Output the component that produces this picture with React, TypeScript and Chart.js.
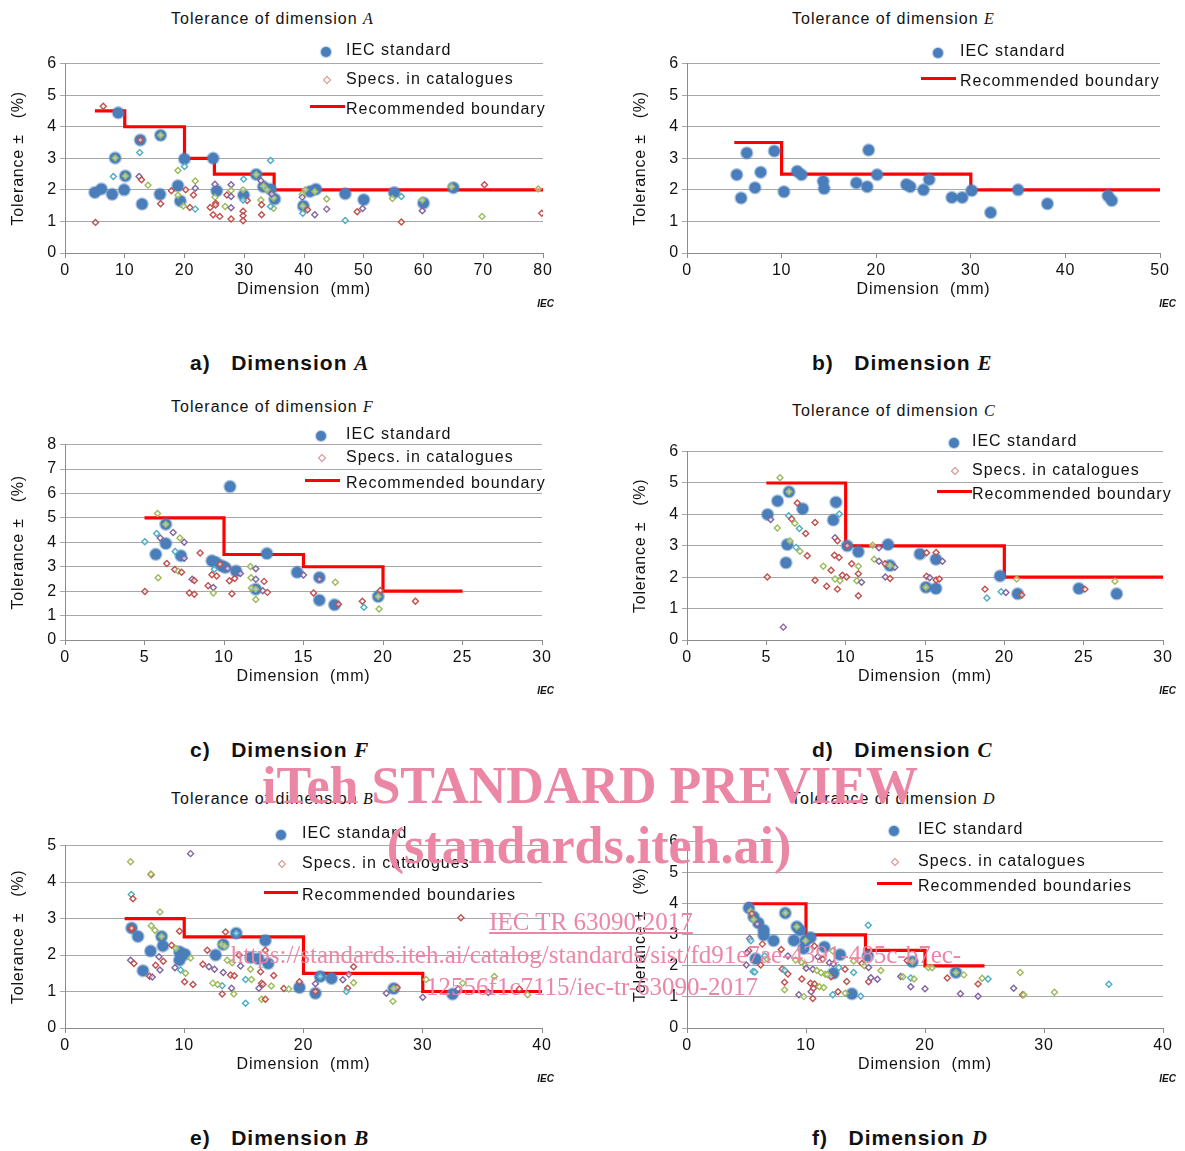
import React, { useEffect, useRef } from "react";
import { Chart, registerables } from "chart.js";
Chart.register(...registerables);

type P = [number, number];
type S = [number, number, number]; // x, y, catalogue source

// catalogue sources: 0 red, 1 green, 2 purple, 3 teal
const SOURCE_COLORS = ["#C0504D", "#9BBB59", "#8064A2", "#4BACC6"];

// ---------- Dimension A ----------
const iecA: P[] = [[5.0,1.92],[6.1,2.03],[7.9,1.86],[8.9,4.44],[8.4,3.01],[10.1,2.44],[9.9,2.0],[12.6,3.58],[12.9,1.55],[16.0,3.73],[15.9,1.86],[18.9,2.13],[19.3,1.65],[20.0,2.98],[24.8,3.0],[25.4,1.97],[29.9,1.83],[32.0,2.49],[33.2,2.1],[34.4,2.02],[35.1,1.71],[39.9,1.49],[41.0,1.95],[42.0,2.02],[46.9,1.88],[50.0,1.69],[55.1,1.92],[60.0,1.58],[65.0,2.07]];
const specsA: S[] = [[5.1,0.97,0],[6.4,4.65,0],[8.1,2.42,3],[8.4,3.01,1],[12.5,3.18,3],[12.6,3.58,0],[12.4,2.42,2],[12.8,2.32,0],[13.9,2.15,1],[10.1,2.44,1],[16.0,1.56,0],[16.0,3.73,1],[17.8,1.97,0],[18.9,2.61,1],[20.0,2.74,3],[20.2,2.0,0],[18.9,1.83,1],[19.8,1.49,1],[20.9,1.44,0],[21.8,1.39,3],[21.8,2.28,1],[21.8,2.05,2],[21.5,1.84,0],[25.1,2.18,2],[25.1,1.77,1],[25.2,1.58,0],[25.2,1.52,0],[24.3,1.44,0],[24.8,1.21,0],[25.9,1.16,0],[26.8,1.47,1],[27.1,1.84,0],[27.8,2.16,2],[27.8,1.98,1],[27.8,1.79,2],[27.8,1.43,2],[27.8,1.08,0],[29.9,2.34,3],[29.8,2.0,1],[29.8,1.32,0],[29.8,1.18,0],[29.8,1.02,0],[30.5,1.66,0],[29.8,1.68,3],[32.0,2.49,1],[33.2,2.12,1],[32.8,2.29,2],[32.8,1.68,1],[32.9,1.53,0],[32.9,1.21,0],[34.4,2.93,3],[33.8,2.0,1],[34.9,1.42,1],[34.4,1.47,3],[34.9,1.74,1],[34.6,1.87,2],[39.7,1.86,1],[39.7,1.77,2],[39.8,1.26,3],[39.8,1.49,1],[40.6,1.37,0],[41.8,1.21,2],[40.2,2.0,1],[41.8,1.95,1],[43.8,1.71,1],[43.8,1.39,2],[46.9,1.03,3],[48.9,1.31,0],[49.8,1.41,2],[54.8,1.73,1],[56.3,1.79,3],[56.3,0.98,0],[59.8,1.34,2],[59.8,1.68,1],[64.7,2.1,1],[70.2,2.16,0],[69.8,1.16,1],[79.2,2.03,1],[79.8,1.26,0]];
const boundAx = [5, 10, 20, 25, 35, 80];
const boundAy = [4.5, 4, 3, 2.5, 2, 2];

// ---------- Dimension E ----------
const iecE: P[] = [[5.26,2.48],[5.72,1.74],[6.32,3.17],[7.19,2.07],[7.79,2.56],[9.23,3.23],[10.25,1.94],[11.65,2.59],[12.1,2.48],[14.4,2.27],[14.5,2.04],[17.9,2.22],[19.05,2.1],[19.2,3.26],[20.1,2.48],[23.2,2.17],[23.6,2.1],[25.0,2.0],[25.6,2.33],[28.0,1.76],[29.1,1.76],[30.1,1.98],[32.1,1.28],[35.0,2.0],[38.1,1.56],[44.5,1.81],[44.9,1.66]];
const specsE: S[] = [];
const boundEx = [5, 10, 30, 50];
const boundEy = [3.5, 2.5, 2, 2];

// ---------- Dimension F ----------
const iecF: P[] = [[10.38,6.28],[6.34,4.74],[6.34,3.95],[5.71,3.51],[7.29,3.45],[9.24,3.24],[9.5,3.17],[9.85,3.04],[10.08,2.97],[10.76,2.82],[12.0,2.08],[12.7,3.54],[14.6,2.77],[16.0,2.56],[16.0,1.63],[16.95,1.44],[19.7,1.78]];
const specsF: S[] = [[5.82,5.18,1],[5.02,4.02,3],[5.76,4.36,3],[5.99,4.18,2],[6.8,4.4,2],[7.23,4.18,1],[7.5,4.0,2],[6.93,3.62,3],[7.5,3.35,2],[8.5,3.56,0],[6.4,3.13,0],[6.9,2.89,0],[7.12,2.82,1],[7.33,2.77,0],[5.86,2.55,1],[8.0,2.49,2],[8.13,2.44,0],[5.02,1.99,0],[7.82,1.92,0],[8.13,1.87,0],[9.0,2.22,0],[9.33,2.15,2],[9.33,1.92,1],[9.24,2.67,0],[9.54,2.62,0],[9.39,2.9,3],[9.75,3.1,0],[10.23,2.93,2],[10.34,2.43,0],[10.67,2.52,0],[11.03,2.72,2],[10.5,1.89,0],[11.66,3.01,1],[12.0,2.92,2],[11.7,2.55,1],[12.0,2.49,2],[11.72,2.13,1],[12.0,1.66,1],[12.44,2.02,2],[12.73,1.95,0],[12.52,2.4,0],[15.0,2.66,2],[16.0,2.49,2],[15.63,1.92,0],[17.0,2.36,1],[17.2,1.46,0],[18.7,1.59,0],[18.8,1.34,3],[19.75,1.27,1],[19.83,2.03,0],[19.7,1.78,1],[22.04,1.59,0],[6.34,4.74,1],[12.0,2.08,1]];
const boundFx = [5, 10, 15, 20, 25];
const boundFy = [5, 3.5, 3, 2, 2];

// ---------- Dimension C ----------
const iecC: P[] = [[5.08,4.0],[5.71,4.43],[6.43,4.72],[7.29,4.18],[9.39,4.39],[9.22,3.82],[6.32,3.04],[6.24,2.46],[10.1,3.0],[10.8,2.81],[12.67,3.04],[12.79,2.37],[14.68,2.74],[15.69,2.57],[15.06,1.68],[15.69,1.64],[19.73,2.04],[20.84,1.47],[24.7,1.64],[27.08,1.47]];
const specsC: S[] = [[5.86,5.17,1],[6.43,4.72,1],[6.95,4.36,0],[6.41,3.96,3],[5.27,3.84,2],[6.6,3.85,0],[6.8,3.72,1],[7.08,3.55,3],[7.48,3.39,0],[8.07,3.74,0],[5.69,3.57,1],[9.6,4.01,3],[9.33,3.26,2],[9.48,3.16,0],[6.49,3.15,1],[6.87,2.95,3],[7.12,2.83,1],[7.58,2.68,0],[5.06,2.01,0],[8.07,1.9,0],[8.59,2.35,1],[9.08,2.22,0],[9.29,2.7,0],[9.58,2.63,0],[9.33,1.94,1],[9.64,1.89,1],[8.8,1.71,0],[9.48,1.62,0],[9.79,2.06,0],[10.06,2.01,0],[10.38,2.43,0],[10.8,2.35,1],[10.8,2.11,0],[10.7,1.89,1],[11.0,1.84,2],[10.8,1.41,0],[11.7,3.02,1],[12.1,2.94,2],[11.8,2.57,1],[12.1,2.51,2],[12.48,2.43,0],[13.1,2.32,2],[12.5,2.01,2],[12.8,1.96,0],[6.07,0.41,2],[15.1,2.03,0],[15.3,1.98,2],[15.7,1.91,0],[15.9,1.94,0],[15.7,2.79,0],[16.1,2.51,2],[15.1,2.78,0],[18.78,1.62,0],[18.9,1.34,3],[19.8,1.54,3],[20.1,1.51,2],[20.78,1.94,1],[21.1,1.43,0],[25.08,1.62,0],[26.97,1.87,1],[10.1,3.0,0],[12.79,2.37,1],[15.06,1.68,1]];
const boundCx = [5, 10, 20, 30];
const boundCy = [5, 3, 2, 2];

// ---------- Dimension B ----------
const iecB: P[] = [[5.59,2.74],[6.12,2.51],[6.54,1.57],[7.18,2.11],[8.1,2.51],[8.21,2.25],[9.6,2.09],[9.6,1.86],[10.06,2.02],[12.63,2.0],[13.27,2.29],[14.36,2.6],[15.56,1.93],[16.2,1.9],[16.8,2.4],[17.04,1.77],[19.66,1.11],[21.0,0.95],[21.4,1.41],[22.35,1.36],[27.57,1.08],[32.5,0.93]];
const specsB: S[] = [[5.5,4.56,1],[10.53,4.78,2],[7.23,4.2,0],[7.2,4.22,1],[5.56,3.66,3],[5.7,3.54,0],[7.96,3.18,1],[5.59,2.7,0],[5.5,1.86,2],[5.78,1.77,0],[7.23,2.8,1],[7.54,2.68,1],[9.6,2.65,0],[8.94,2.27,0],[9.3,2.18,1],[10.53,1.92,1],[7.88,1.95,2],[8.24,1.83,0],[7.6,1.72,0],[7.96,1.59,2],[7.09,1.42,0],[7.32,1.4,2],[9.22,1.65,2],[9.69,1.59,3],[10.11,1.5,1],[10.03,1.27,0],[10.73,1.19,0],[11.93,2.13,0],[11.56,1.75,0],[12.07,1.68,2],[12.54,1.61,2],[13.27,1.52,2],[13.13,2.29,1],[13.4,2.24,1],[13.46,2.63,0],[13.6,1.86,1],[14.02,1.79,1],[13.88,1.45,0],[14.2,1.43,0],[13.97,1.09,2],[14.16,0.93,1],[13.18,0.93,0],[13.18,1.16,3],[12.4,1.23,1],[12.8,1.19,1],[15.14,0.68,3],[14.6,2.0,0],[14.72,1.7,2],[15.56,1.61,1],[16.4,1.54,0],[16.48,1.23,0],[16.6,1.2,0],[15.14,1.33,3],[15.64,1.33,1],[16.26,1.09,2],[16.8,2.13,0],[17.3,1.15,1],[17.5,1.44,0],[16.48,0.79,1],[16.8,0.79,0],[18.35,1.08,0],[18.77,1.07,1],[19.66,1.27,0],[21.0,1.21,2],[21.0,1.0,0],[24.2,1.68,0],[23.8,1.47,2],[24.2,1.24,1],[23.3,1.32,2],[23.7,1.09,0],[23.6,1.0,3],[26.95,0.95,2],[27.5,0.73,1],[27.85,1.11,0],[30.0,0.84,2],[30.28,1.33,1],[33.2,3.02,0],[33.35,1.23,1],[32.96,1.07,2],[36.0,1.41,1],[35.5,0.97,2],[38.1,1.07,0],[38.8,0.91,1],[5.59,2.74,0],[8.1,2.51,1],[14.36,2.6,3],[21.4,1.41,3],[27.57,1.08,1]];
const boundBx = [5, 10, 20, 30, 40];
const boundBy = [3, 2.5, 1.5, 1, 1];

// ---------- Dimension D ----------
const iecD: P[] = [[5.2,3.86],[5.6,3.58],[6.0,3.38],[6.45,3.15],[6.45,2.99],[7.28,2.81],[8.26,3.7],[8.98,2.82],[9.23,3.26],[9.5,3.15],[9.96,2.81],[10.38,2.91],[9.8,2.56],[11.55,2.61],[5.77,2.23],[12.86,2.36],[12.3,1.76],[13.86,1.1],[15.2,2.32],[18.94,2.13],[22.6,1.79]];
const specsD: S[] = [[5.33,3.77,1],[5.45,3.68,0],[5.6,3.49,1],[5.9,3.35,2],[5.27,2.88,2],[5.36,2.81,3],[5.19,2.49,0],[5.05,2.42,2],[6.33,2.7,0],[6.19,2.03,0],[6.53,2.32,3],[6.75,2.21,1],[4.99,2.03,2],[5.55,1.82,3],[5.7,1.8,3],[7.92,2.53,0],[8.48,2.32,2],[9.12,2.19,1],[8.0,1.9,0],[8.48,1.74,0],[8.2,1.86,3],[8.2,1.47,0],[8.2,1.23,1],[9.65,1.58,0],[9.4,1.07,2],[9.82,1.01,1],[10.57,0.95,0],[10.43,1.17,2],[10.38,1.44,0],[10.71,1.42,0],[10.63,1.28,0],[11.13,1.33,1],[11.49,1.3,1],[9.6,2.12,1],[9.93,2.02,1],[10.01,1.92,2],[10.57,1.89,2],[10.91,1.85,1],[11.27,1.78,1],[11.63,1.73,1],[12.1,1.65,0],[11.8,1.72,1],[10.71,2.64,0],[10.99,2.29,2],[11.41,2.21,0],[12.25,2.48,1],[11.97,2.1,2],[12.3,2.06,2],[12.75,1.95,3],[14.0,2.16,1],[14.0,1.79,3],[13.28,1.89,0],[13.42,1.5,0],[12.69,1.17,0],[13.3,1.12,1],[12.25,1.07,3],[14.6,1.02,3],[15.23,3.31,3],[14.7,2.08,0],[14.9,2.0,1],[15.26,1.95,2],[16.29,1.85,1],[15.26,1.49,0],[15.45,1.62,2],[16.0,1.57,2],[17.96,1.66,2],[18.15,1.65,1],[18.8,1.61,3],[19.08,1.58,1],[18.8,1.33,2],[18.5,2.17,0],[20.0,1.26,2],[20.28,1.95,1],[20.6,1.94,1],[21.87,1.61,0],[22.98,1.1,2],[23.26,1.71,1],[24.46,1.42,0],[24.8,1.6,1],[25.3,1.58,3],[24.46,1.02,2],[27.45,1.28,2],[28.0,1.79,1],[28.2,1.07,0],[28.3,1.07,1],[30.88,1.15,1],[35.45,1.41,3],[8.26,3.7,1],[9.23,3.26,1],[18.94,2.13,1],[22.6,1.79,1],[9.96,2.81,1]];
const boundDx = [5, 10, 15, 20, 25];
const boundDy = [4, 3, 2.5, 2, 2];

const SANS = '"Liberation Sans", Arial, Helvetica, sans-serif';
const SERIF = '"Liberation Serif", "Times New Roman", serif';
const TEXT = "#111";

type PanelCfg = {
  letter: string; tag: string;
  plot: { l: number; r: number; t: number; b: number };
  xMax: number; xStep: number; yMax: number;
  iec: P[]; specs: S[]; bx: number[]; by: number[];
  title: [number, number];
  legend: { mx: number; tx: number; rows: (number | null)[]; lx: [number, number]; label: string };
  iecLbl: [number, number];
  caption: [number, number];
};

const panels: PanelCfg[] = [
  { letter: "A", tag: "a)", plot: { l: 65, r: 543, t: 63, b: 253 }, xMax: 80, xStep: 10, yMax: 6, iec: iecA, specs: specsA, bx: boundAx, by: boundAy,
    title: [171, 19], legend: { mx: 326, tx: 346, rows: [49, 78, 108], lx: [310, 345], label: "Recommended boundary" }, iecLbl: [554, 305], caption: [190, 364] },
  { letter: "E", tag: "b)", plot: { l: 687, r: 1160, t: 63, b: 253 }, xMax: 50, xStep: 10, yMax: 6, iec: iecE, specs: specsE, bx: boundEx, by: boundEy,
    title: [792, 19], legend: { mx: 938, tx: 960, rows: [50, null, 80], lx: [921, 956], label: "Recommended boundary" }, iecLbl: [1176, 305], caption: [812, 364] },
  { letter: "F", tag: "c)", plot: { l: 65, r: 542, t: 444, b: 640 }, xMax: 30, xStep: 5, yMax: 8, iec: iecF, specs: specsF, bx: boundFx, by: boundFy,
    title: [171, 407], legend: { mx: 321, tx: 346, rows: [433, 456, 482], lx: [305, 340], label: "Recommended boundary" }, iecLbl: [554, 692], caption: [190, 751] },
  { letter: "C", tag: "d)", plot: { l: 687, r: 1163, t: 451, b: 640 }, xMax: 30, xStep: 5, yMax: 6, iec: iecC, specs: specsC, bx: boundCx, by: boundCy,
    title: [792, 411], legend: { mx: 954, tx: 972, rows: [440, 469, 493], lx: [937, 972], label: "Recommended boundary" }, iecLbl: [1176, 692], caption: [812, 751] },
  { letter: "B", tag: "e)", plot: { l: 65, r: 542, t: 845, b: 1028 }, xMax: 40, xStep: 10, yMax: 5, iec: iecB, specs: specsB, bx: boundBx, by: boundBy,
    title: [171, 799], legend: { mx: 281, tx: 302, rows: [832, 862, 894], lx: [264, 298], label: "Recommended boundaries" }, iecLbl: [554, 1080], caption: [190, 1139] },
  { letter: "D", tag: "f)", plot: { l: 687, r: 1163, t: 841, b: 1028 }, xMax: 40, xStep: 10, yMax: 6, iec: iecD, specs: specsD, bx: boundDx, by: boundDy,
    title: [791, 799], legend: { mx: 894, tx: 918, rows: [828, 860, 885], lx: [877, 912], label: "Recommended boundaries" }, iecLbl: [1176, 1080], caption: [812, 1139] },
];

const YW = 65, PADT = 12, PADR = 20, XH = 55;

const spacingPlugin = {
  id: "letterSpacing",
  beforeDraw(chart: any) { try { chart.ctx.letterSpacing = "0.8px"; } catch (e) {} },
};

function PanelChart({ cfg }: { cfg: PanelCfg }) {
  const ref = useRef<HTMLCanvasElement>(null);
  const { l, r, t, b } = cfg.plot;
  const W = YW + (r - l) + PADR;
  const H = PADT + (b - t) + XH;
  useEffect(() => {
    const tickFont = { family: SANS, size: 16 };
    const titleFont = { family: SANS, size: 16 };
    const chart = new Chart(ref.current as HTMLCanvasElement, {
      type: "scatter",
      data: {
        datasets: [
          {
            label: "Recommended boundary",
            data: cfg.bx.map((x, i) => ({ x, y: cfg.by[i] })),
            showLine: true, stepped: "before", borderColor: "#FF0000", borderWidth: 3.2,
            pointRadius: 0, fill: false, order: 3,
          } as any,
          {
            label: "IEC standard",
            data: cfg.iec.map(([x, y]) => ({ x, y })),
            backgroundColor: "#4A7EBB", borderColor: "rgba(74,126,187,0.45)", borderWidth: 2.5,
            pointRadius: 5.5, pointStyle: "circle", order: 2,
          },
          {
            label: "Specs. in catalogues",
            data: cfg.specs.map(([x, y]) => ({ x, y })),
            pointStyle: "rectRot", pointRadius: 3, borderWidth: 1.4,
            borderColor: cfg.specs.map((s) => SOURCE_COLORS[s[2]]),
            backgroundColor: "rgba(255,255,255,0.55)", order: 1,
          },
        ],
      },
      options: {
        responsive: false, animation: false, devicePixelRatio: 1,
        layout: { padding: { left: 0, top: PADT, right: PADR, bottom: 0 } },
        plugins: { legend: { display: false }, tooltip: { enabled: false }, title: { display: false } },
        scales: {
          x: {
            type: "linear", min: 0, max: cfg.xMax,
            afterFit: (s: any) => { s.height = XH; },
            ticks: { stepSize: cfg.xStep, font: tickFont, color: TEXT, padding: 3 },
            grid: { drawOnChartArea: false, drawTicks: true, tickLength: 5, color: "#8C8C8C" },
            border: { color: "#8C8C8C", width: 1 },
            title: { display: true, text: "Dimension  (mm)", font: titleFont, color: TEXT, padding: { top: 0, bottom: 9 } },
          },
          y: {
            type: "linear", min: 0, max: cfg.yMax,
            afterFit: (s: any) => { s.width = YW; },
            ticks: { stepSize: 1, font: tickFont, color: TEXT, padding: 3 },
            grid: { color: "#A8A8A8", tickLength: 5, lineWidth: 1 },
            border: { color: "#8C8C8C", width: 1 },
            title: { display: true, text: "Tolerance ±   (%)", font: titleFont, color: TEXT, padding: { top: 9, bottom: 0 } },
          },
        },
      } as any,
      plugins: [spacingPlugin],
    });
    return () => chart.destroy();
  }, []);
  return (
    <canvas ref={ref} width={W} height={H}
      style={{ position: "absolute", left: l - YW, top: t - PADT, width: W, height: H }} />
  );
}

function Legend({ cfg }: { cfg: PanelCfg }) {
  const { mx, tx, rows, lx, label } = cfg.legend;
  const txt = (y: number, s: string) => (
    <div style={{ position: "absolute", left: tx, top: y - 8, lineHeight: "20px", font: `16px ${SANS}`, letterSpacing: "1px", color: TEXT, whiteSpace: "nowrap" }}>{s}</div>
  );
  return (
    <>
      {rows[0] !== null && (
        <>
          <div style={{ position: "absolute", left: mx - 5, top: (rows[0] as number) + 3 - 5, width: 10, height: 10, borderRadius: "50%", background: "#4A7EBB", boxShadow: "0 0 1px 1px rgba(74,126,187,0.4)" }} />
          {txt(rows[0] as number, "IEC standard")}
        </>
      )}
      {rows[1] !== null && (
        <>
          <div style={{ position: "absolute", left: mx - 2.5, top: (rows[1] as number) + 1 - 2.5, width: 4, height: 4, border: "1px solid #D98A88", transform: "rotate(45deg)", background: "#fff" }} />
          {txt(rows[1] as number, "Specs. in catalogues")}
        </>
      )}
      {rows[2] !== null && (
        <>
          <div style={{ position: "absolute", left: lx[0], top: (rows[2] as number) - 2 - 1.5, width: lx[1] - lx[0], height: 3, background: "#FF0000" }} />
          {txt(rows[2] as number, label)}
        </>
      )}
    </>
  );
}

function Annotations({ cfg }: { cfg: PanelCfg }) {
  return (
    <>
      <div style={{ position: "absolute", left: cfg.title[0], top: cfg.title[1] - 9, lineHeight: "20px", font: `16px ${SANS}`, letterSpacing: "1px", color: TEXT, whiteSpace: "nowrap" }}>
        Tolerance of dimension <span style={{ fontFamily: SERIF, fontStyle: "italic", letterSpacing: 0 }}>{cfg.letter}</span>
      </div>
      <div style={{ position: "absolute", left: cfg.iecLbl[0] - 40, width: 40, textAlign: "right", top: cfg.iecLbl[1] - 7, lineHeight: "14px", font: `italic bold 10px ${SANS}`, color: TEXT }}>IEC</div>
      <div style={{ position: "absolute", left: cfg.caption[0], top: cfg.caption[1] - 13, lineHeight: "26px", font: `bold 21px ${SANS}`, letterSpacing: "1px", color: TEXT, whiteSpace: "pre" }}>
        {cfg.tag + "   Dimension "}<span style={{ fontFamily: SERIF, fontStyle: "italic", fontWeight: "bold" }}>{cfg.letter}</span>
      </div>
      <Legend cfg={cfg} />
    </>
  );
}

const WM = "#EB86A5";
function wm(cx: number, cy: number, text: string, size: number, bold: boolean, underline = false) {
  return (
    <div style={{ position: "absolute", left: cx, top: cy, transform: "translate(-50%,-50%)", whiteSpace: "nowrap", lineHeight: 1,
      font: `${bold ? "bold " : ""}${size}px ${SERIF}`, color: WM, textDecoration: underline ? "underline" : "none", pointerEvents: "none" }}>{text}</div>
  );
}

export default function App() {
  return (
    <div style={{ position: "absolute", left: 0, top: 0, width: 1185, height: 1151, background: "#fff", overflow: "hidden" }}>
      {panels.map((p, i) => <PanelChart key={"c" + i} cfg={p} />)}
      {panels.map((p, i) => <Annotations key={"a" + i} cfg={p} />)}
      {wm(590, 785, "iTeh STANDARD PREVIEW", 52, true)}
      {wm(589, 845, "(standards.iteh.ai)", 52, true)}
      {wm(591, 922, "IEC TR 63090:2017", 25, false, true)}
      {wm(596, 955, "https://standards.iteh.ai/catalog/standards/sist/fd91e7ae-4391-485c-b7ec-", 25, false)}
      {wm(592, 987, "12556f1c7115/iec-tr-63090-2017", 25, false)}
    </div>
  );
}
